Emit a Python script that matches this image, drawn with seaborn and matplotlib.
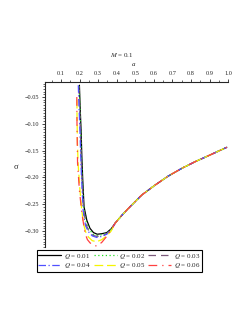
import numpy as np
import pandas as pd
import matplotlib
matplotlib.use("Agg")
import matplotlib.pyplot as plt
import seaborn as sns
from matplotlib.ticker import MultipleLocator

sns.set_style("ticks")
plt.rcParams['font.family'] = ['Liberation Serif', 'DejaVu Serif']
plt.rcParams['mathtext.fontset'] = 'stix'

# Q values of the six curves
q_values = [0.01, 0.02, 0.03, 0.04, 0.05, 0.06]

# descending branch and minimum, one per Q (a, sigma)
head_a = {
    0.01: [0.199, 0.203, 0.208, 0.212, 0.217, 0.224, 0.239, 0.256, 0.275, 0.295, 0.320, 0.346, 0.370],
    0.02: [0.198, 0.202, 0.206, 0.210, 0.215, 0.222, 0.236, 0.254, 0.273, 0.294, 0.320, 0.346, 0.370],
    0.03: [0.196, 0.200, 0.204, 0.208, 0.213, 0.221, 0.234, 0.251, 0.271, 0.293, 0.320, 0.346, 0.370],
    0.04: [0.193, 0.197, 0.202, 0.206, 0.211, 0.220, 0.232, 0.247, 0.268, 0.292, 0.320, 0.346, 0.370],
    0.05: [0.186, 0.186, 0.188, 0.192, 0.202, 0.210, 0.220, 0.233, 0.247, 0.268, 0.292, 0.320, 0.346, 0.370],
    0.06: [0.185, 0.186, 0.189, 0.199, 0.212, 0.229, 0.242, 0.256, 0.275, 0.295, 0.320, 0.346, 0.370],
}
head_sigma = {
    0.01: [-0.028, -0.070, -0.112, -0.160, -0.205, -0.255, -0.280, -0.295, -0.303, -0.306, -0.305, -0.303, -0.296],
    0.02: [-0.030, -0.070, -0.112, -0.160, -0.205, -0.257, -0.283, -0.298, -0.306, -0.308, -0.307, -0.304, -0.297],
    0.03: [-0.030, -0.070, -0.112, -0.160, -0.205, -0.259, -0.287, -0.301, -0.308, -0.310, -0.309, -0.305, -0.298],
    0.04: [-0.028, -0.070, -0.112, -0.160, -0.205, -0.266, -0.290, -0.301, -0.309, -0.312, -0.310, -0.306, -0.299],
    0.05: [-0.055, -0.080, -0.130, -0.175, -0.224, -0.255, -0.285, -0.302, -0.311, -0.318, -0.320, -0.316, -0.309, -0.300],
    0.06: [-0.050, -0.100, -0.173, -0.224, -0.266, -0.304, -0.316, -0.322, -0.327, -0.328, -0.321, -0.310, -0.298],
}

# rising branch, shared by all Q
tail_a = [0.391, 0.427, 0.463, 0.535, 0.607, 0.678, 0.751, 0.822, 0.894, 0.993]
tail_sigma = [-0.2856, -0.271, -0.2577, -0.2328, -0.2142, -0.1974, -0.183, -0.1707, -0.1595, -0.1438]

colors = ['black', '#22dd22', '#7b5a7b', '#5050ff', '#f5f500', '#ff4040']
styles = ['-', (0, (1, 2)), (0, (6, 4)), (0, (6, 2, 1, 2)), (0, (7, 3)), (0, (7, 4, 1, 4))]

fig = plt.figure(figsize=(2.49, 3.23), dpi=100)
ax = fig.add_axes([0.181, 0.235, 0.735, 0.511])

handles = []
for q, c, ls in zip(q_values, colors, styles):
    df = pd.DataFrame({'a': head_a[q] + tail_a, 'sigma': head_sigma[q] + tail_sigma})
    sns.lineplot(data=df, x='a', y='sigma', ax=ax, sort=False, color=c,
                 linestyle=ls, linewidth=0.9, estimator=None)
    handles.append((ax.lines[-1], f'$Q$ = {q:.2f}'))

ax.set_xlim(0.014, 1.0)
ax.set_ylim(-0.33, -0.022)

for s in ['right', 'bottom']:
    ax.spines[s].set_visible(False)
ax.spines['left'].set_linewidth(0.8)
ax.spines['top'].set_linewidth(0.8)

ax.xaxis.tick_top()
ax.xaxis.set_minor_locator(MultipleLocator(0.05))
ax.yaxis.set_minor_locator(MultipleLocator(0.005))
ax.set_xticks(np.arange(0.1, 1.01, 0.1))
ax.set_xticklabels([f'{v:.1f}' for v in np.arange(0.1, 1.01, 0.1)])
ax.set_yticks([-0.05, -0.10, -0.15, -0.20, -0.25, -0.30])
ax.set_yticklabels(['\u22120.05', '\u22120.10', '\u22120.15', '\u22120.20', '\u22120.25', '\u22120.30'])
ax.tick_params(which='major', length=2.5, width=0.6, labelsize=4.5, pad=1.5)
ax.tick_params(which='minor', length=1.3, width=0.5)

ax.set_xlabel('')
ax.set_ylabel('')
ax.text(0.481, 1.109, 'a', transform=ax.transAxes, ha='center', va='center',
        fontsize=5, style='italic')
ax.text(0.421, 1.164, '$M$ = 0.1', transform=ax.transAxes, ha='center', va='center',
        fontsize=5)
fig.text(16 / 249, 1 - 167 / 323, '\u03c3', ha='center', va='center', fontsize=6)

# legend filled row-wise like the reference
order = [0, 3, 1, 4, 2, 5]
leg = fig.legend([handles[i][0] for i in order], [handles[i][1] for i in order],
                 ncol=3, loc='center', bbox_to_anchor=(0.48, 0.192), fontsize=5,
                 handlelength=3.3, handletextpad=0.4, columnspacing=0.4,
                 labelspacing=0.1, borderpad=0.25, fancybox=False, framealpha=1)
leg.get_frame().set_edgecolor('black')
leg.get_frame().set_linewidth(0.8)

fig.savefig('out.png', dpi=100)
